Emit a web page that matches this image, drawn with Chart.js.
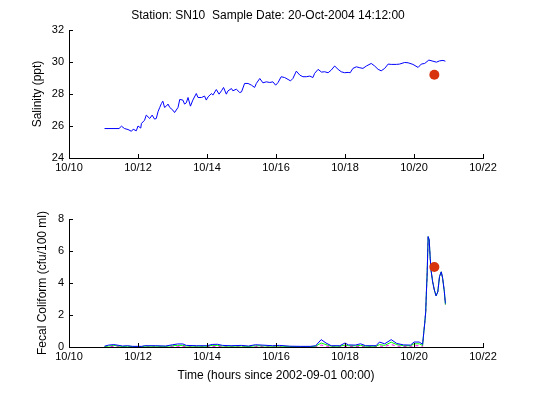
<!DOCTYPE html>
<html>
<head>
<meta charset="utf-8">
<script src="https://cdn.jsdelivr.net/npm/chart.js@4"></script>
<style>
  body { margin: 0; background: #fff; }
  #wrap { position: relative; width: 533px; height: 399px; background: #fff; }
  canvas { position: absolute; left: 0; }
  #top-chart { top: 0; }
  #bottom-chart { top: 190px; }
</style>
</head>
<body>
<div id="wrap">
  <canvas id="top-chart" width="533" height="190"></canvas>
  <canvas id="bottom-chart" width="533" height="209"></canvas>
</div>
<script>
// x values are days of October 2004
const xTickDays = [10, 12, 14, 16, 18, 20, 22];
const salTicks = [24, 26, 28, 30, 32];
const fcTicks = [0, 2, 4, 6, 8];

// salinity record (blue line)
const salDays = [11.03, 11.45, 11.52, 11.61, 11.71, 11.81, 11.86, 11.95, 12.00, 12.08,
  12.10, 12.19, 12.24, 12.34, 12.41, 12.48, 12.53, 12.58, 12.63, 12.68,
  12.72, 12.77, 12.82, 12.87, 12.92, 13.01, 13.06, 13.16, 13.21, 13.30,
  13.35, 13.40, 13.45, 13.52, 13.59, 13.69, 13.74, 13.84, 13.93, 13.98,
  14.03, 14.13, 14.17, 14.27, 14.35, 14.42, 14.48, 14.56, 14.61, 14.71,
  14.75, 14.85, 14.95, 15.00, 15.09, 15.19, 15.29, 15.38, 15.43, 15.53,
  15.62, 15.72, 15.82, 15.91, 15.99, 16.06, 16.15, 16.25, 16.35, 16.42,
  16.49, 16.59, 16.69, 16.78, 16.88, 16.98, 17.07, 17.12, 17.22, 17.32,
  17.41, 17.51, 17.60, 17.70, 17.80, 17.89, 17.99, 18.09, 18.15, 18.23,
  18.33, 18.43, 18.52, 18.62, 18.76, 18.86, 18.96, 19.05, 19.15, 19.25,
  19.34, 19.49, 19.58, 19.73, 19.83, 19.97, 20.12, 20.21, 20.31, 20.43,
  20.55, 20.65, 20.74, 20.84, 20.91];
const salValues = [25.84, 25.84, 25.99, 25.84, 25.78, 25.67, 25.80, 25.70, 26.00, 25.87,
  26.16, 26.36, 26.68, 26.47, 26.68, 26.43, 26.47, 26.89, 27.16, 27.41,
  27.55, 27.16, 27.24, 27.37, 27.16, 26.99, 26.84, 27.16, 27.66, 27.62,
  27.37, 27.45, 27.78, 27.24, 27.62, 28.03, 27.78, 27.78, 27.87, 27.62,
  27.82, 28.03, 27.93, 28.28, 27.99, 28.20, 28.41, 27.99, 28.20, 28.34,
  28.20, 28.30, 28.09, 28.13, 28.66, 28.66, 28.55, 28.41, 28.66, 28.97,
  28.70, 28.76, 28.72, 28.76, 28.55, 28.72, 29.08, 29.03, 28.91, 28.82,
  28.97, 29.43, 29.18, 29.08, 29.08, 29.12, 29.03, 29.29, 29.54, 29.37,
  29.39, 29.33, 29.49, 29.75, 29.54, 29.39, 29.33, 29.35, 29.33, 29.60,
  29.70, 29.64, 29.60, 29.75, 29.91, 29.75, 29.54, 29.45, 29.60, 29.87,
  29.85, 29.85, 29.87, 29.97, 29.95, 29.85, 29.66, 29.87, 29.91, 30.12,
  30.05, 29.99, 30.07, 30.10, 30.05];

// fecal coliform records
const fcDays = [11.03, 11.15, 11.30, 11.45, 11.55, 11.70, 11.85, 12.10, 12.20, 12.50,
  12.80, 13.00, 13.15, 13.30, 13.40, 13.70, 14.00, 14.15, 14.30, 14.45,
  14.70, 15.00, 15.20, 15.40, 15.60, 15.90, 16.10, 16.40, 16.70, 17.00,
  17.15, 17.31, 17.45, 17.60, 17.85, 18.00, 18.10, 18.30, 18.45, 18.60,
  18.90, 19.00, 19.15, 19.34, 19.50, 19.70, 19.90, 20.00, 20.15, 20.25,
  20.28, 20.31, 20.34, 20.36, 20.38, 20.41, 20.44, 20.47, 20.50, 20.54,
  20.59, 20.64, 20.69, 20.74, 20.79, 20.83, 20.88, 20.91];
const fcBlue = [0.05, 0.12, 0.15, 0.10, 0.06, 0.08, 0.04, 0.04, 0.08, 0.08,
  0.06, 0.14, 0.19, 0.19, 0.10, 0.08, 0.08, 0.16, 0.17, 0.10,
  0.08, 0.10, 0.06, 0.14, 0.12, 0.08, 0.10, 0.05, 0.04, 0.04,
  0.08, 0.46, 0.25, 0.08, 0.08, 0.25, 0.13, 0.12, 0.20, 0.08,
  0.08, 0.31, 0.20, 0.46, 0.22, 0.13, 0.12, 0.31, 0.31, 0.17,
  0.84, 1.47, 2.20, 3.45, 4.50, 6.90, 6.70, 5.55, 4.70, 4.08,
  3.56, 3.20, 3.45, 4.40, 4.70, 4.30, 3.45, 2.72];
const fcGreen = [0.03, 0.06, 0.10, 0.06, 0.03, 0.05, 0.02, 0.02, 0.05, 0.05,
  0.04, 0.08, 0.10, 0.10, 0.06, 0.05, 0.05, 0.10, 0.10, 0.06,
  0.05, 0.06, 0.03, 0.08, 0.07, 0.05, 0.06, 0.03, 0.02, 0.02,
  0.05, 0.25, 0.15, 0.05, 0.05, 0.12, 0.08, 0.07, 0.10, 0.05,
  0.05, 0.15, 0.10, 0.30, 0.15, 0.08, 0.08, 0.20, 0.20, 0.10,
  0.84, 1.47, 2.20, 3.45, 4.50, 6.90, 6.70, 5.55, 4.70, 4.08,
  3.56, 3.20, 3.45, 4.40, 4.70, 4.30, 3.45, 2.65];
const fcMagenta = [0.01, 0.02, 0.03, 0.02, 0.01, 0.02, 0.01, 0.01, 0.02, 0.02,
  0.01, 0.03, 0.04, 0.04, 0.02, 0.02, 0.02, 0.04, 0.04, 0.02,
  0.02, 0.02, 0.01, 0.03, 0.03, 0.02, 0.02, 0.01, 0.01, 0.01,
  0.02, 0.12, 0.06, 0.02, 0.02, 0.05, 0.03, 0.03, 0.04, 0.02,
  0.02, 0.06, 0.04, 0.15, 0.06, 0.03, 0.03, 0.08, 0.08, 0.04,
  0.84, 1.47, 2.20, 3.45, 4.50, 6.90, 6.70, 5.55, 4.70, 4.08,
  3.56, 3.20, 3.45, 4.40, 4.70, 4.30, 3.45, 2.65];

// sample taken 20-Oct-2004 14:12
const sampleDay = [20.59];
const sampleSal = [29.2];
const sampleFc = [5.0];

const FONT = { family: '"Liberation Sans", Arial, sans-serif', size: 11, lineHeight: 1.2 };
const TITLE_FONT = { family: '"Liberation Sans", Arial, sans-serif', size: 12, lineHeight: 1.2 };
const zip = (xs, ys) => xs.map((x, i) => ({ x: x, y: ys[i] }));

// MATLAB style inward tick marks
const innerTicks = {
  id: 'innerTicks',
  afterDraw(chart) {
    const ctx = chart.ctx;
    const xs = chart.scales.x, ys = chart.scales.y;
    const area = chart.chartArea;
    ctx.save();
    ctx.strokeStyle = '#000';
    ctx.lineWidth = 1;
    ctx.beginPath();
    xs.ticks.forEach(t => {
      const px = Math.round(xs.getPixelForValue(t.value)) + 0.5;
      ctx.moveTo(px, area.bottom);
      ctx.lineTo(px, area.bottom - 4);
    });
    ys.ticks.forEach(t => {
      const py = Math.round(ys.getPixelForValue(t.value)) + 0.5;
      ctx.moveTo(area.left, py);
      ctx.lineTo(area.left + 4, py);
    });
    ctx.stroke();
    ctx.restore();
  }
};

// figure title, centred a bit left of the axes like the original
const figTitle = {
  id: 'figTitle',
  afterDraw(chart, args, opts) {
    const ctx = chart.ctx;
    ctx.save();
    ctx.fillStyle = '#000';
    ctx.font = TITLE_FONT.size + 'px ' + TITLE_FONT.family;
    ctx.textAlign = 'center';
    ctx.textBaseline = 'middle';
    ctx.fillText(opts.text, 268, 16);
    ctx.restore();
  }
};

function lineSet(xs, ys, color, dash) {
  return {
    data: zip(xs, ys),
    borderColor: color,
    borderWidth: 1,
    borderDash: dash || [],
    pointRadius: 0,
    tension: 0,
    fill: false
  };
}

function dotSet(xs, ys) {
  return {
    data: zip(xs, ys),
    showLine: false,
    pointRadius: 5,
    pointBackgroundColor: '#d6330e',
    pointBorderColor: '#d6330e',
    pointBorderWidth: 0
  };
}

function makeScales(yMin, yMax, yTicks, yTitle, yTitlePad, xTitle, xHeight) {
  return {
    x: {
      type: 'linear',
      min: 10, max: 22,
      afterBuildTicks: s => { s.ticks = xTickDays.map(v => ({ value: v })); },
      afterFit: s => { s.height = xHeight; },
      ticks: { color: '#000', font: FONT, padding: 3, maxRotation: 0, callback: v => '10/' + v },
      grid: { display: false, drawTicks: false },
      border: { display: true, color: '#000', width: 1 },
      title: xTitle ? { display: true, text: xTitle, color: '#000', font: TITLE_FONT, padding: { top: 0, bottom: 16 } } : { display: false }
    },
    y: {
      min: yMin, max: yMax,
      afterBuildTicks: s => { s.ticks = yTicks.map(v => ({ value: v })); },
      afterFit: s => { s.width = 69; },
      ticks: { color: '#000', font: FONT, padding: 5 },
      grid: { display: false, drawTicks: false },
      border: { display: true, color: '#000', width: 1 },
      title: { display: true, text: yTitle, color: '#000', font: TITLE_FONT, padding: { top: yTitlePad, bottom: 0 } }
    }
  };
}

const commonPlugins = { legend: { display: false }, tooltip: { enabled: false }, title: { display: false } };

new Chart(document.getElementById('top-chart'), {
  type: 'line',
  data: {
    datasets: [
      dotSet(sampleDay, sampleSal),
      lineSet(salDays, salValues, '#0000ff')
    ]
  },
  options: {
    responsive: false,
    animation: false,
    devicePixelRatio: 1,
    layout: { padding: { left: 0, right: 50, top: 30, bottom: 0 } },
    plugins: Object.assign({
      figTitle: { text: 'Station: SN10  Sample Date: 20-Oct-2004 14:12:00' }
    }, commonPlugins),
    scales: makeScales(24, 32, salTicks, 'Salinity (ppt)', 30, null, 32)
  },
  plugins: [innerTicks, figTitle]
});

new Chart(document.getElementById('bottom-chart'), {
  type: 'line',
  data: {
    datasets: [
      dotSet(sampleDay, sampleFc),
      lineSet(fcDays, fcBlue, '#0000ff'),
      lineSet(fcDays, fcGreen, '#00ff00'),
      lineSet(fcDays, fcMagenta, '#ff00ff', [3, 3])
    ]
  },
  options: {
    responsive: false,
    animation: false,
    devicePixelRatio: 1,
    layout: { padding: { left: 0, right: 50, top: 29, bottom: 0 } },
    plugins: commonPlugins,
    scales: makeScales(0, 8, fcTicks, 'Fecal Coliform (cfu/100 ml)', 35, 'Time (hours since 2002-09-01 00:00)', 52)
  },
  plugins: [innerTicks]
});
</script>
</body>
</html>
